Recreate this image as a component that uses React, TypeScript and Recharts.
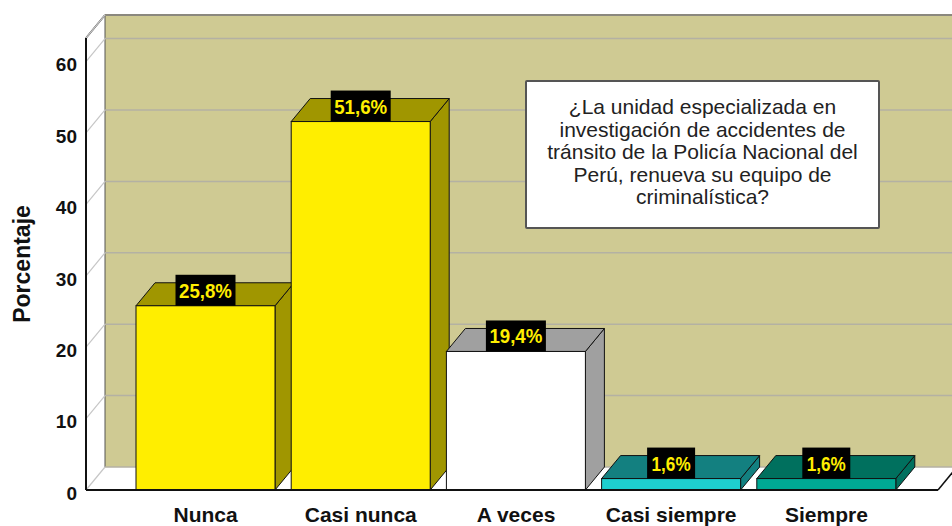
import React from "react";
import { BarChart, Bar, XAxis, YAxis, CartesianGrid, LabelList } from "recharts";

const categories = ["Nunca", "Casi nunca", "A veces", "Casi siempre", "Siempre"];
const percentages = [25.8, 51.6, 19.4, 1.6, 1.6];
const yTicks = [0, 10, 20, 30, 40, 50, 60];
const titleLines = [
  "¿La unidad especializada en",
  "investigación de accidentes de",
  "tránsito de la Policía Nacional del",
  "Perú, renueva su equipo de",
  "criminalística?",
];

const rows = categories.map((cat, i) => ({ cat, pct: percentages[i] }));

// bar face colours: front / top+side
const FRONT = ["#FFEE00", "#FFEE00", "#FFFFFF", "#1ECFCF", "#00A994"];
const SHADE = ["#A09600", "#A09600", "#A0A0A0", "#138080", "#00705E"];

const DX = 19;
const DY = 23;
const FONT = "'Liberation Sans', Arial, sans-serif";

function GridLine(props: any) {
  const { x1, x2, y1, index, x, y, width, height } = props;
  return (
    <g key={`g-${index}`}>
      {index === 0 && (
        <g>
          <rect x={x + DX} y={y - DY} width={width + 10} height={height} fill="#CFCA93" />
          <polygon
            points={`${x},${y} ${x + DX},${y - DY} ${x + DX},${y + height - DY} ${x},${y + height}`}
            fill="#FFFFFF"
          />
          <polygon
            points={`${x},${y + height} ${x + DX},${y + height - DY} ${x + width + DX + 10},${y + height - DY} ${x + width},${y + height}`}
            fill="#FFFFFF"
          />
          <line x1={x + DX} y1={y - DY} x2={x + DX} y2={y + height - DY} stroke="#555" strokeWidth={1} />
          <line x1={x + DX} y1={y - DY} x2={x + width + DX + 10} y2={y - DY} stroke="#111" strokeWidth={2} />
          <line x1={x} y1={y} x2={x + DX} y2={y - DY} stroke="#111" strokeWidth={1.5} />
          <line
            x1={x + width}
            y1={y + height}
            x2={x + width + DX}
            y2={y + height - DY}
            stroke="#111"
            strokeWidth={1.5}
          />
        </g>
      )}
      <line x1={x1 + DX} y1={y1 - DY} x2={x2 + DX + 10} y2={y1 - DY} stroke="#B4B1A3" strokeWidth={1.5} />
      <line x1={x1} y1={y1} x2={x1 + DX} y2={y1 - DY} stroke="#C6C6C6" strokeWidth={1.2} />
    </g>
  );
}

function Box3D(props: any) {
  const { x, y, width: w, height: h, index } = props;
  return (
    <g>
      <polygon
        points={`${x + w},${y} ${x + w + DX},${y - DY} ${x + w + DX},${y + h - DY} ${x + w},${y + h}`}
        fill={SHADE[index]}
        stroke="#111"
        strokeWidth={1}
      />
      <polygon
        points={`${x},${y} ${x + DX},${y - DY} ${x + w + DX},${y - DY} ${x + w},${y}`}
        fill={SHADE[index]}
        stroke="#111"
        strokeWidth={1}
      />
      <rect x={x} y={y} width={w} height={h} fill={FRONT[index]} stroke="#111" strokeWidth={1} />
    </g>
  );
}

function ValueTag(props: any) {
  const { x, y, width, value } = props;
  const text = `${Number(value).toFixed(1).replace(".", ",")}%`;
  const bw = text.length > 4 ? 60 : 48;
  const tw = text.length > 4 ? 53 : 39;
  const cx = x + width / 2;
  return (
    <g>
      <rect x={cx - bw / 2} y={y - 31} width={bw} height={31} fill="#000" />
      <text
        x={cx}
        y={y - 15}
        textAnchor="middle"
        dominantBaseline="central"
        fill="#FFEE00"
        fontFamily={FONT}
        fontWeight="bold"
        fontSize={20}
        textLength={tw}
        lengthAdjust="spacingAndGlyphs"
      >
        {text}
      </text>
    </g>
  );
}

export default function App() {
  return (
    <div style={{ position: "absolute", left: 0, top: 0, width: 952, height: 526, background: "#fff" }}>
      <BarChart width={952} height={526} data={rows} margin={{ top: 38, right: 14, bottom: 0, left: 0 }}>
        <CartesianGrid vertical={false} horizontal={(p: any) => <GridLine {...p} />} />
        <XAxis
          dataKey="cat"
          padding={{ left: 42, right: 34 }}
          height={36}
          tickSize={0}
          tickMargin={17}
          axisLine={{ stroke: "#111", strokeWidth: 2 }}
          tick={{ fill: "#111", fontSize: 21, fontWeight: "bold", fontFamily: FONT }}
        />
        <YAxis
          type="number"
          domain={[0, 63.3]}
          ticks={yTicks}
          width={86}
          tickSize={0}
          tickMargin={9}
          axisLine={{ stroke: "#111", strokeWidth: 2 }}
          tick={{ fill: "#111", fontSize: 19, fontWeight: "bold", fontFamily: FONT, dy: 3 }}
          label={(p: any) => {
            const vb = p.viewBox || {};
            const cy = (vb.y ?? 38) + (vb.height ?? 452) / 2;
            return (
              <text
                x={22}
                y={cy}
                transform={`rotate(-90 22 ${cy})`}
                textAnchor="middle"
                dominantBaseline="central"
                fill="#111"
                fontFamily={FONT}
                fontWeight="bold"
                fontSize={23}
              >
                Porcentaje
              </text>
            );
          }}
        />
        <Bar dataKey="pct" barSize={139} shape={(p: any) => <Box3D {...p} />} isAnimationActive={false}>
          <LabelList dataKey="pct" content={(p: any) => <ValueTag {...p} />} />
        </Bar>
      </BarChart>
      <div
        style={{
          position: "absolute",
          left: 525,
          top: 80,
          width: 351,
          height: 131,
          background: "#fff",
          border: "2px solid #555",
          borderRadius: 2,
          fontFamily: FONT,
          fontSize: 21,
          lineHeight: "22.5px",
          textAlign: "center",
          color: "#222",
          paddingTop: 14,
          boxSizing: "content-box",
        }}
      >
        {titleLines.map((l) => (
          <div key={l} style={{ whiteSpace: "nowrap" }}>
            {l}
          </div>
        ))}
      </div>
    </div>
  );
}
